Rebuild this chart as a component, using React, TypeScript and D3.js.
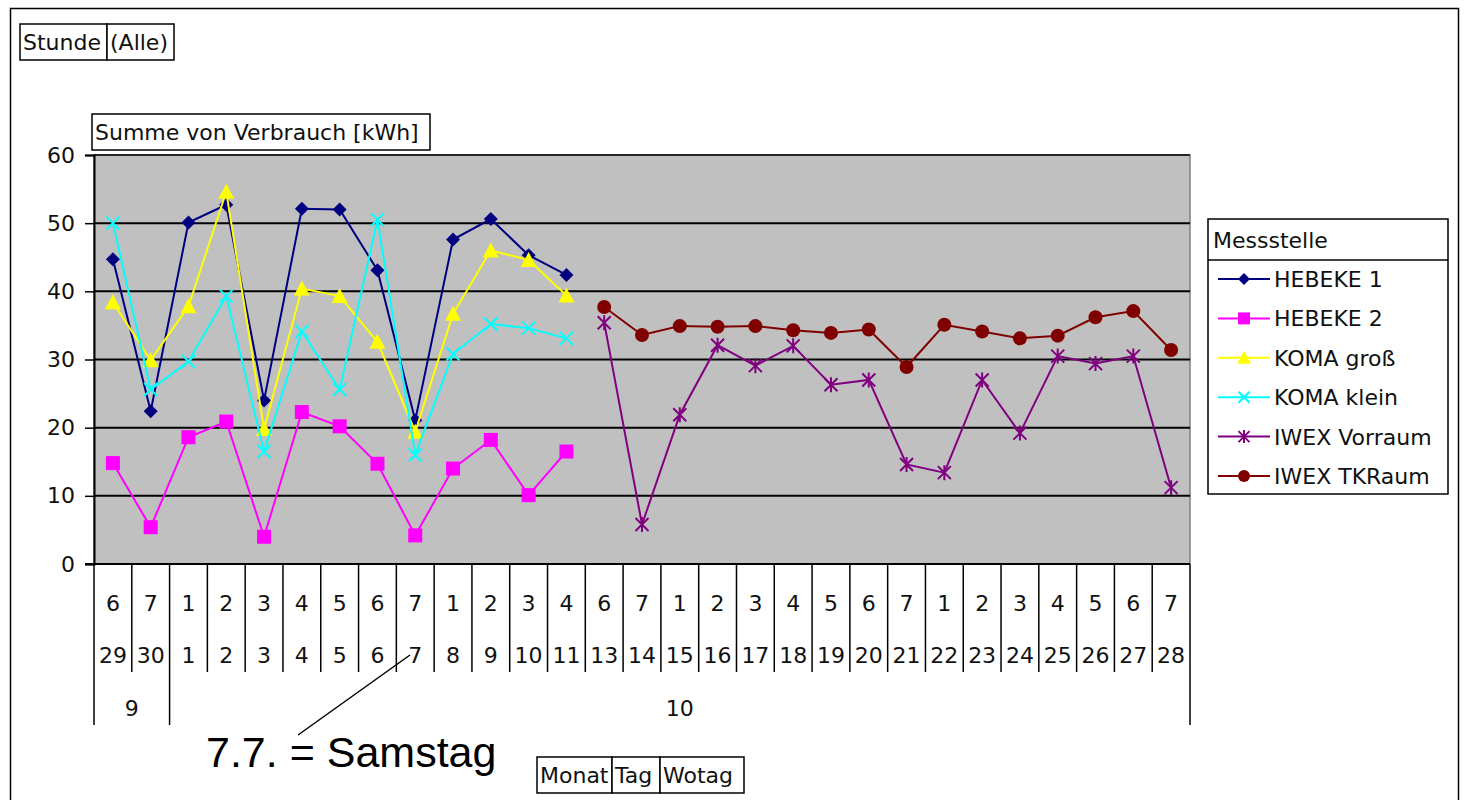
import React, { useEffect, useRef } from "react";
import * as d3 from "d3";

// Wochentag, Tag, Monat (x-Achse, drei Ebenen)
const wotag = [6, 7, 1, 2, 3, 4, 5, 6, 7, 1, 2, 3, 4, 6, 7, 1, 2, 3, 4, 5, 6, 7, 1, 2, 3, 4, 5, 6, 7];
const tag = [29, 30, 1, 2, 3, 4, 5, 6, 7, 8, 9, 10, 11, 13, 14, 15, 16, 17, 18, 19, 20, 21, 22, 23, 24, 25, 26, 27, 28];
const monatLabels = ["9", "10"];
const monatCounts = [2, 27];

const yTicks = [0, 10, 20, 30, 40, 50, 60];

// Messwerte [kWh]
const hebeke1 = [44.7, 22.4, 50.1, 52.7, 24.0, 52.1, 52.0, 43.1, 21.1, 47.6, 50.6, 45.3, 42.4];
const hebeke2 = [14.8, 5.4, 18.6, 20.9, 4.0, 22.3, 20.2, 14.7, 4.2, 14.0, 18.2, 10.1, 16.5];
const komaGross = [38.4, 29.9, 37.8, 54.6, 19.8, 40.4, 39.3, 32.6, 19.4, 36.7, 46.0, 44.6, 39.4];
const komaKlein = [50.0, 25.6, 29.7, 39.3, 16.5, 34.1, 25.6, 50.5, 16.0, 30.8, 35.2, 34.6, 33.1];
const iwexVorraum = [35.4, 5.8, 21.9, 32.1, 29.1, 32.0, 26.3, 27.0, 14.6, 13.4, 27.0, 19.2, 30.5, 29.4, 30.5, 11.2];
const iwexTKRaum = [37.7, 33.6, 34.9, 34.8, 34.9, 34.3, 33.9, 34.4, 28.9, 35.1, 34.1, 33.1, 33.5, 36.2, 37.1, 31.4];

const seriesNames = ["HEBEKE 1", "HEBEKE 2", "KOMA groß", "KOMA klein", "IWEX Vorraum", "IWEX TKRaum"];
const seriesColors = ["#000080", "#FF00FF", "#FFFF00", "#00FFFF", "#800080", "#800000"];
const seriesMarkers = ["diamond", "square", "triangle", "x", "star", "circle"];
const seriesStart = [0, 0, 0, 0, 13, 13];

const FONT = "'DejaVu Sans', Verdana, sans-serif";
const FS = 22;

const markerPath = (type: string, s: number) => {
  const h = s / 2;
  switch (type) {
    case "diamond":
      return `M0,${-h}L${h},0L0,${h}L${-h},0Z`;
    case "square":
      return `M${-h},${-h}H${h}V${h}H${-h}Z`;
    case "triangle":
      return `M0,${-h - 1}L${h + 1},${h}L${-h - 1},${h}Z`;
    case "x":
      return `M${-h},${-h}L${h},${h}M${-h},${h}L${h},${-h}`;
    case "star":
      return `M${-h},${-h}L${h},${h}M${-h},${h}L${h},${-h}M0,${-h - 1}V${h + 1}`;
    default:
      return "";
  }
};

const App = () => {
  const ref = useRef<SVGSVGElement>(null);

  useEffect(() => {
    if (!ref.current) return;
    const svg = d3.select(ref.current);
    svg.selectAll("*").remove();

    const left = 94;
    const right = 1190;
    const top = 155;
    const bottom = 564;

    const x = d3
      .scaleBand<number>()
      .domain(d3.range(tag.length))
      .range([left, right]);
    const y = d3.scaleLinear().domain([0, 60]).range([bottom, top]);

    // äußerer Rahmen
    svg
      .append("rect")
      .attr("x", 10.5)
      .attr("y", 8.5)
      .attr("width", 1448)
      .attr("height", 820)
      .attr("fill", "white")
      .attr("stroke", "#000")
      .attr("stroke-width", 1.5);

    // Feldschaltflächen
    const fieldBox = (cells: string[], widths: number[], x0: number, y0: number, h: number) => {
      let cx = x0;
      cells.forEach((c, i) => {
        svg
          .append("rect")
          .attr("x", cx)
          .attr("y", y0)
          .attr("width", widths[i])
          .attr("height", h)
          .attr("fill", "white")
          .attr("stroke", "#000")
          .attr("stroke-width", 1.5);
        svg
          .append("text")
          .attr("x", cx + 3)
          .attr("y", y0 + h / 2)
          .attr("dy", "0.36em")
          .attr("font-family", FONT)
          .attr("font-size", FS)
          .attr("fill", "#111")
          .text(c);
        cx += widths[i];
      });
    };
    fieldBox(["Stunde", "(Alle)"], [87, 67], 20, 24, 36);
    fieldBox(["Summe von Verbrauch [kWh]"], [338], 92, 114, 36);
    fieldBox(["Monat", "Tag", "Wotag"], [75, 48, 84], 537, 757, 36);

    // Zeichnungsfläche
    svg
      .append("rect")
      .attr("x", left)
      .attr("y", top)
      .attr("width", right - left)
      .attr("height", bottom - top)
      .attr("fill", "#C0C0C0")
      .attr("stroke", "#808080")
      .attr("stroke-width", 1.5);

    // Gitternetzlinien
    svg
      .append("g")
      .selectAll("line")
      .data(yTicks.filter((t) => t > 0))
      .enter()
      .append("line")
      .attr("x1", left)
      .attr("x2", right)
      .attr("y1", (d) => y(d))
      .attr("y2", (d) => y(d))
      .attr("stroke", "#000")
      .attr("stroke-width", (d) => (d === 60 ? 1.5 : 2));

    // y-Achse
    const yAxis = svg
      .append("g")
      .attr("transform", `translate(${left},0)`)
      .call(d3.axisLeft(y).tickValues(yTicks).tickSize(9).tickPadding(10));
    yAxis.select(".domain").attr("stroke", "#000").attr("stroke-width", 2);
    yAxis.selectAll(".tick line").attr("stroke", "#000").attr("stroke-width", 1.5);
    yAxis
      .selectAll(".tick text")
      .attr("font-family", FONT)
      .attr("font-size", FS)
      .attr("fill", "#111");

    // x-Achse als Tabelle
    svg
      .append("line")
      .attr("x1", left - 9)
      .attr("x2", right)
      .attr("y1", bottom)
      .attr("y2", bottom)
      .attr("stroke", "#000")
      .attr("stroke-width", 2);

    const monatStarts = monatCounts.map((_, i) => d3.sum(monatCounts.slice(0, i)));
    const monatEdges = new Set([...monatStarts, tag.length]);
    d3.range(tag.length + 1).forEach((i) => {
      const xp = i < tag.length ? x(i)! : right;
      svg
        .append("line")
        .attr("x1", xp)
        .attr("x2", xp)
        .attr("y1", bottom)
        .attr("y2", monatEdges.has(i) ? 725 : 672)
        .attr("stroke", "#000")
        .attr("stroke-width", 1.5);
    });

    const xAxisText = svg
      .append("g")
      .attr("font-family", FONT)
      .attr("font-size", FS)
      .attr("fill", "#111")
      .attr("text-anchor", "middle");
    xAxisText
      .selectAll(".wotag")
      .data(wotag)
      .enter()
      .append("text")
      .attr("x", (_, i) => x(i)! + x.bandwidth() / 2)
      .attr("y", 603)
      .attr("dy", "0.36em")
      .text((d) => d);
    xAxisText
      .selectAll(".tag")
      .data(tag)
      .enter()
      .append("text")
      .attr("x", (_, i) => x(i)! + x.bandwidth() / 2)
      .attr("y", 655)
      .attr("dy", "0.36em")
      .text((d) => d);
    xAxisText
      .selectAll(".monat")
      .data(monatLabels)
      .enter()
      .append("text")
      .attr("x", (_, i) => {
        const s = monatStarts[i];
        const e = s + monatCounts[i];
        const x1 = x(s)!;
        const x2 = e < tag.length ? x(e)! : right;
        return (x1 + x2) / 2;
      })
      .attr("y", 708)
      .attr("dy", "0.36em")
      .text((d) => d);

    // Datenreihen
    const allSeries = [hebeke1, hebeke2, komaGross, komaKlein, iwexVorraum, iwexTKRaum];
    const line = d3
      .line<[number, number]>()
      .x((d) => x(d[0])! + x.bandwidth() / 2)
      .y((d) => y(d[1]));

    allSeries.forEach((vals, si) => {
      const pts: [number, number][] = vals.map((v, i) => [seriesStart[si] + i, v]);
      const g = svg.append("g");
      g.append("path")
        .attr("d", line(pts))
        .attr("fill", "none")
        .attr("stroke", seriesColors[si])
        .attr("stroke-width", 2);
      const m = g
        .selectAll(".m")
        .data(pts)
        .enter()
        .append("g")
        .attr("transform", (d) => `translate(${x(d[0])! + x.bandwidth() / 2},${y(d[1])})`);
      drawMarker(m, seriesMarkers[si], seriesColors[si], 14);
    });

    // Legende
    const lg = svg.append("g").attr("transform", "translate(1208,219)");
    lg.append("rect")
      .attr("width", 240)
      .attr("height", 275)
      .attr("fill", "white")
      .attr("stroke", "#000")
      .attr("stroke-width", 1.5);
    lg.append("line")
      .attr("x1", 0)
      .attr("x2", 240)
      .attr("y1", 41)
      .attr("y2", 41)
      .attr("stroke", "#000")
      .attr("stroke-width", 1.5);
    lg.append("text")
      .attr("x", 5)
      .attr("y", 21)
      .attr("dy", "0.36em")
      .attr("font-family", FONT)
      .attr("font-size", FS)
      .attr("fill", "#111")
      .text("Messstelle");
    const items = lg
      .selectAll(".item")
      .data(seriesNames)
      .enter()
      .append("g")
      .attr("transform", (_, i) => `translate(0,${60 + i * 39.4})`);
    items
      .append("line")
      .attr("x1", 10)
      .attr("x2", 62)
      .attr("stroke", (_, i) => seriesColors[i])
      .attr("stroke-width", 2);
    items.each(function (_, i) {
      const m = d3.select(this).append("g").attr("transform", "translate(36,0)");
      drawMarker(m as any, seriesMarkers[i], seriesColors[i], 12);
    });
    items
      .append("text")
      .attr("x", 66)
      .attr("dy", "0.36em")
      .attr("font-family", FONT)
      .attr("font-size", FS)
      .attr("fill", "#111")
      .text((d) => d);

    // Anmerkung
    svg
      .append("line")
      .attr("x1", 298)
      .attr("y1", 735)
      .attr("x2", 410)
      .attr("y2", 655)
      .attr("stroke", "#000")
      .attr("stroke-width", 1.5);
    svg
      .append("text")
      .attr("x", 206)
      .attr("y", 767)
      .attr("font-family", "'Liberation Sans', Arial, sans-serif")
      .attr("font-size", 43)
      .attr("fill", "#000")
      .text("7.7. = Samstag");
  }, []);

  return (
    <svg
      ref={ref}
      width={1468}
      height={800}
      style={{ position: "absolute", left: 0, top: 0, background: "white" }}
    ></svg>
  );
};

function drawMarker(sel: any, type: string, color: string, size: number) {
  if (type === "circle") {
    sel.append("circle").attr("r", size / 2).attr("fill", color);
  } else if (type === "x" || type === "star") {
    sel
      .append("path")
      .attr("d", markerPath(type, size - 1))
      .attr("fill", "none")
      .attr("stroke", color)
      .attr("stroke-width", 2);
  } else {
    sel.append("path").attr("d", markerPath(type, size)).attr("fill", color);
  }
}

export default App;
